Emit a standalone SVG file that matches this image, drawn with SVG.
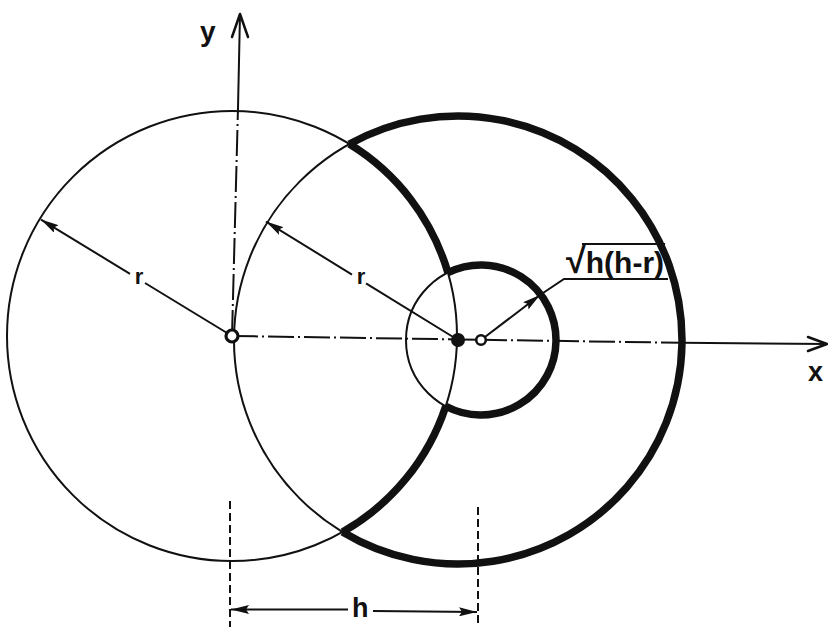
<svg xmlns="http://www.w3.org/2000/svg" width="828" height="627" viewBox="0 0 828 627">
<defs>
<style>
.thin{fill:none;stroke:#111;stroke-width:2}
.thick{fill:none;stroke:#111;stroke-width:7.5;stroke-linecap:butt}
.dd{fill:none;stroke:#111;stroke-width:2;stroke-dasharray:26 4 2 4}
.dash{fill:none;stroke:#111;stroke-width:2;stroke-dasharray:8 4}
.ln{fill:none;stroke:#111;stroke-width:2}
.head{fill:none;stroke:#111;stroke-width:2.5;stroke-linecap:round;stroke-linejoin:round}
text{font-family:"Liberation Sans","DejaVu Sans",Arial,sans-serif;fill:#111;font-weight:bold}
</style>
<marker id="ah" viewBox="0 0 18 9" refX="18" refY="4.5" markerWidth="18" markerHeight="9" markerUnits="userSpaceOnUse" orient="auto">
<path d="M0,0 L18,4.5 L0,9 L3,4.5 Z" fill="#111"/>
</marker>
</defs>
<rect width="828" height="627" fill="#fff"/>

<g id="circles">
<circle class="thin" cx="232" cy="336" r="225"/>
<circle class="thin" cx="458" cy="340" r="224"/>
<circle class="thin" cx="481" cy="340" r="75"/>
</g>

<g id="outline">
<path class="thick" d="M349.42 144.07 A224 224 0 1 1 342.56 531.97"/>
<path class="thick" d="M349.42 144.07 A225 225 0 0 1 447.91 272.69"/>
<path class="thick" d="M445.77 406.21 A225 225 0 0 1 342.56 531.97"/>
<path class="thick" d="M447.91 272.69 A75 75 0 1 1 445.77 406.21"/>
</g>

<g id="axes">
<line class="dd" x1="232" y1="336" x2="458" y2="339.4"/>
<line class="ln" x1="458" y1="339.4" x2="481" y2="339.8"/>
<line class="dd" x1="481" y1="339.8" x2="682" y2="342.8"/>
<line class="ln" x1="682" y1="342.8" x2="827" y2="344"/>
<polyline class="head" points="808,337 827,344 808,351"/>
<line class="dd" x1="232" y1="336" x2="238" y2="108"/>
<line class="ln" x1="238" y1="108" x2="240" y2="14"/>
<polyline class="head" points="232,37 240,14 248,37"/>
</g>

<g id="radii">
<line class="ln" x1="130" y1="273.8" x2="41" y2="219.6" marker-end="url(#ah)"/>
<line class="ln" x1="145" y1="283" x2="232" y2="336"/>
<line class="ln" x1="352" y1="274.6" x2="266" y2="221.6" marker-end="url(#ah)"/>
<line class="ln" x1="366" y1="283.3" x2="458" y2="340"/>
<line class="ln" x1="481" y1="340" x2="540" y2="295" marker-end="url(#ah)"/>
<polyline class="ln" points="540,295 564,279 668,279"/>
<line class="ln" x1="582" y1="244" x2="665" y2="244" stroke-width="2.5"/>
</g>

<g id="dimension">
<line class="dash" x1="230" y1="501" x2="230" y2="627"/>
<line class="dash" x1="478" y1="507" x2="478" y2="627"/>
<line class="ln" x1="348" y1="609.5" x2="231" y2="609.5" marker-end="url(#ah)"/>
<line class="ln" x1="373" y1="611" x2="477" y2="612" marker-end="url(#ah)"/>
</g>

<g id="centers">
<circle cx="232" cy="336" r="6" fill="#fff" stroke="#111" stroke-width="3.2"/>
<circle cx="458" cy="340" r="7" fill="#111"/>
<circle cx="481" cy="340" r="4.8" fill="#fff" stroke="#111" stroke-width="2.6"/>
</g>

<g id="labels">
<text x="200" y="41" font-size="28">y</text>
<text x="808" y="381" font-size="27">x</text>
<text x="139" y="284" font-size="22" text-anchor="middle">r</text>
<text x="361" y="284" font-size="22" text-anchor="middle">r</text>
<text x="566" y="273" font-size="30"><tspan font-size="36">√</tspan>h(h-r)</text>
<text x="352" y="617" font-size="27">h</text>
</g>
</svg>
